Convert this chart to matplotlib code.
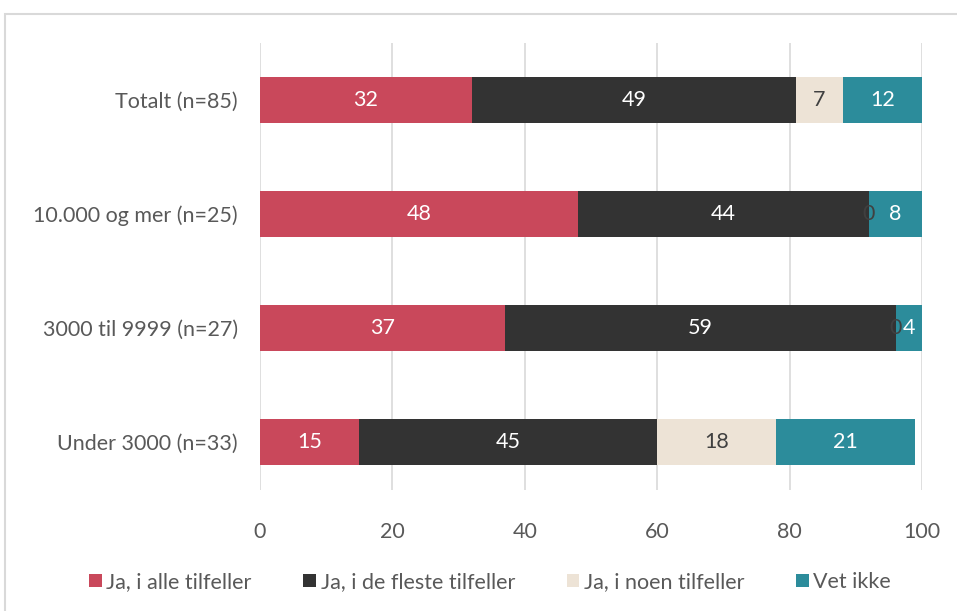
import numpy as np
import matplotlib.pyplot as plt
from matplotlib.patches import Rectangle

plt.rcParams['font.family'] = ['Lato', 'DejaVu Sans']

# kategorier (øverst først) og andeler i prosent
kategorier = ["Totalt (n=85)", "10.000 og mer (n=25)", "3000 til 9999 (n=27)", "Under 3000 (n=33)"]
serier = ["Ja, i alle tilfeller", "Ja, i de fleste tilfeller", "Ja, i noen tilfeller", "Vet ikke"]
alle = [32, 48, 37, 15]
fleste = [49, 44, 59, 45]
noen = [7, 0, 0, 18]
vet_ikke = [12, 8, 4, 21]
xticks = [0, 20, 40, 60, 80, 100]

farger = ["#C9485B", "#333333", "#EDE3D6", "#2C8C9B"]
tekstfarger = ["white", "white", "#404040", "white"]

fig = plt.figure(figsize=(9.57, 6.11), dpi=100)
# ramme rundt diagrammet
fig.patches.append(Rectangle((5 / 957, -0.1), 1.1, 1 - 14 / 611 + 0.1, transform=fig.transFigure,
                             fill=False, edgecolor="#D9D9D9", linewidth=1.5))
ax = fig.add_axes([260 / 957, 1 - 490 / 611, 662 / 957, 447 / 611])

y = np.arange(len(kategorier))
venstre = np.zeros(len(kategorier))
for navn, verdier, farge, tfarge in zip(serier, [alle, fleste, noen, vet_ikke], farger, tekstfarger):
    verdier = np.array(verdier, dtype=float)
    bars = ax.barh(y, verdier, left=venstre, height=0.4, color=farge, label=navn, zorder=3)
    for b, v in zip(bars, verdier):
        ax.text(b.get_x() + b.get_width() / 2, b.get_y() + b.get_height() / 2, f"{v:.0f}",
                ha="center", va="center", color=tfarge, fontsize=15.5, zorder=4)
    venstre += verdier

ax.set_xlim(0, 100)
ax.set_ylim(len(kategorier) - 0.58, -0.5)
ax.set_yticks(y)
ax.set_yticklabels(kategorier)
ax.set_xticks(xticks)
ax.xaxis.grid(True, color="#D9D9D9", linewidth=1.2, zorder=0)
ax.tick_params(axis="both", length=0, labelsize=15.5, labelcolor="#595959")
ax.tick_params(axis="x", pad=23)
ax.tick_params(axis="y", pad=16)
for s in ax.spines.values():
    s.set_visible(False)

fig.legend(loc="center", bbox_to_anchor=(490 / 957, 1 - 582 / 611), ncol=4, frameon=False,
           fontsize=15.5, labelcolor="#595959", handlelength=0.6, handleheight=0.6,
           handletextpad=0.2, columnspacing=2.4)

fig.savefig("out.png", dpi=100)
